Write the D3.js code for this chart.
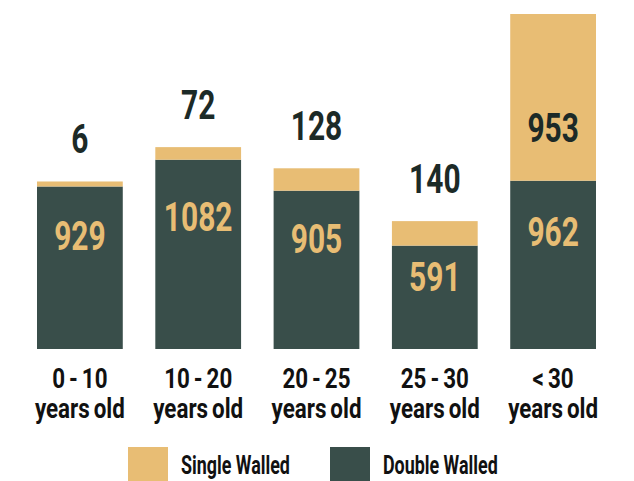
<!DOCTYPE html>
<html>
<head>
<meta charset="utf-8">
<script src="https://cdn.jsdelivr.net/npm/d3@7"></script>
<style>
  html, body { margin: 0; padding: 0; background: #fff; }
  text { font-family: Roboto, "Liberation Sans", sans-serif; font-weight: bold; }
  .cat { word-spacing: -2px; }
</style>
</head>
<body>
<div id="chart"></div>
<script>
const ranges = ["0 - 10", "10 - 20", "20 - 25", "25 - 30", "< 30"];
const subLabel = "years old";
const doubleWalled = [929, 1082, 905, 591, 962];
const singleWalled = [6, 72, 128, 140, 953];
const seriesNames = ["Double Walled", "Single Walled"];

const w = 634;
const h = 481;
const baseY = 349;
const topY = 14;
const tan = "#e8bd74";
const green = "#394e4a";
const ink = "#1c2a27";

const rows = ranges.map((r, i) => ({range: r, double: doubleWalled[i], single: singleWalled[i]}));

const svg = d3.select("#chart")
              .append("svg")
              .attr("width", w)
              .attr("height", h);

// no condensed face installed, so measure a sample string and squeeze to the wanted width
function fitScale(sample, size, target, cls) {
  const t = svg.append("text").attr("class", cls || null).attr("font-size", size).text(sample);
  const len = t.node().getBBox().width;
  t.remove();
  return target / len;
}
const numSx = fitScale("953", 41, 51.5);
const catSx = fitScale("years old", 28, 90, "cat");
const legSx = fitScale("Single Walled", 25, 109);

function squeeze(sel, x, y, sx) {
  sel.attr("transform", "translate(" + x + "," + y + ") scale(" + sx + ",1)");
}

const xScale = d3.scaleBand()
                 .domain(ranges)
                 .range([37, 596])
                 .paddingInner(0.275)
                 .paddingOuter(0);

const yScale = d3.scaleLinear()
                 .domain([0, d3.max(rows, d => d.double + d.single)])
                 .range([baseY, topY]);

const stack = d3.stack().keys(["double", "single"]);
const layers = stack(rows);
const colors = {double: green, single: tan};
const minH = {double: 0, single: 5};

layers.forEach(layer => {
  const key = layer.key;
  svg.append("g")
     .attr("class", "layer-" + key)
     .selectAll("rect")
     .data(layer)
     .enter()
     .append("rect")
     .attr("x", d => xScale(d.data.range))
     .attr("width", xScale.bandwidth())
     .attr("y", d => yScale(d[0]) - Math.max(yScale(d[0]) - yScale(d[1]), minH[key]))
     .attr("height", d => Math.max(yScale(d[0]) - yScale(d[1]), minH[key]))
     .attr("fill", colors[key]);
});

// value labels
layers.forEach(layer => {
  const key = layer.key;
  layer.forEach(d => {
    const cx = xScale(d.data.range) + xScale.bandwidth() / 2;
    const y0 = yScale(d[0]);
    const y1 = yScale(d[1]);
    const segH = y0 - y1;
    let y, fill;
    if (key == "double") {
      y = y1 + segH * 0.3 + 14.5;
      fill = tan;
    } else if (segH > 60) {
      y = y1 + segH * 0.68 + 14.5;
      fill = ink;
    } else {
      y = Math.min(y1, y0 - minH[key]) - 28;
      fill = ink;
    }
    svg.append("text")
       .attr("text-anchor", "middle")
       .attr("font-size", 41)
       .attr("fill", fill)
       .text(d.data[key])
       .call(squeeze, cx, y, numSx);
  });
});

// category labels
const cats = svg.append("g").attr("class", "x-labels");
ranges.forEach(r => {
  const cx = xScale(r) + xScale.bandwidth() / 2;
  cats.append("text")
      .attr("class", "cat")
      .attr("text-anchor", "middle")
      .attr("font-size", 28)
      .attr("fill", "#111")
      .text(r)
      .call(squeeze, cx, 388, catSx);
  cats.append("text")
      .attr("class", "cat")
      .attr("text-anchor", "middle")
      .attr("font-size", 28)
      .attr("fill", "#111")
      .text(subLabel)
      .call(squeeze, cx, 418, catSx);
});

// legend
const legendItems = [
  {name: seriesNames[1], color: tan, x: 128},
  {name: seriesNames[0], color: green, x: 330}
];
const legend = svg.append("g").attr("id", "legend");
legendItems.forEach(item => {
  legend.append("rect")
        .attr("x", item.x)
        .attr("y", 447)
        .attr("width", 40)
        .attr("height", 34)
        .attr("fill", item.color);
  legend.append("text")
        .attr("font-size", 25)
        .attr("fill", "#111")
        .text(item.name)
        .call(squeeze, item.x + 53, 474, legSx);
});
</script>
</body>
</html>
